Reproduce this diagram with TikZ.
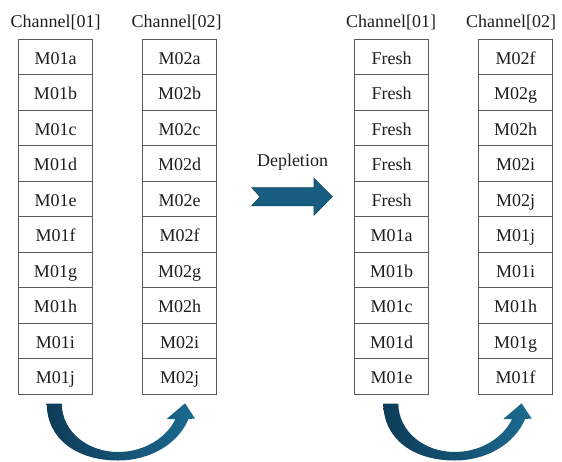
\documentclass[tikz,border=0pt]{standalone}
\usepackage{fontspec}
\setmainfont{Liberation Serif}
\definecolor{boxgray}{RGB}{90,90,90}
\definecolor{txt}{RGB}{30,30,30}
\definecolor{arrowblue}{RGB}{24,94,128}
\definecolor{arrowedge}{RGB}{16,70,98}
\definecolor{arrowdark}{RGB}{14,60,88}
\definecolor{arrowlight}{RGB}{28,106,144}
\begin{document}
\begin{tikzpicture}[x=1pt,y=-1pt,
  cell/.style={draw=boxgray, line width=0.9pt, minimum width=74.4pt, minimum height=35.5pt,
    inner sep=0pt, text height=14pt, text depth=0pt, font=\fontsize{18}{20}\selectfont, text=txt},
  chlabel/.style={anchor=base, inner sep=0pt, font=\fontsize{18}{20}\selectfont, text=txt},
  blockarrow/.style={fill=arrowblue, draw=arrowedge, line width=0.6pt, line join=miter},
  curvedarrow/.pic={
    \shade[left color=arrowdark, right color=arrowlight]
      (46.7,403.5) -- (61.7,403.5)
      .. controls (62,432) and (88,452) .. (118,452)
      .. controls (145,452) and (167,437) .. (175.5,419)
      -- (166.7,419) -- (185,403.3) -- (195,418.5) -- (188.5,419)
      .. controls (178,444) and (150,460.5) .. (118,460.5)
      .. controls (78,460.5) and (47,440) .. (46.7,403.5) -- cycle;
  }]
\useasboundingbox (0,0) rectangle (562,461);
% headers
\node[chlabel] (h1) at (55.5,27.5) {Channel[01]};
\node[chlabel] (h2) at (176.5,27.5) {Channel[02]};
\node[chlabel] (h3) at (391,27.5) {Channel[01]};
\node[chlabel] (h4) at (511,27.5) {Channel[02]};
% columns
\foreach \t [count=\i] in {M01a,M01b,M01c,M01d,M01e,M01f,M01g,M01h,M01i,M01j}
  \node[cell] (a\i) at (55.5,{57.05+35.5*(\i-1)}) {\t};
\foreach \t [count=\i] in {M02a,M02b,M02c,M02d,M02e,M02f,M02g,M02h,M02i,M02j}
  \node[cell] (b\i) at (179.7,{57.05+35.5*(\i-1)}) {\t};
\foreach \t [count=\i] in {Fresh,Fresh,Fresh,Fresh,Fresh,M01a,M01b,M01c,M01d,M01e}
  \node[cell] (c\i) at (391.7,{57.05+35.5*(\i-1)}) {\t};
\foreach \t [count=\i] in {M02f,M02g,M02h,M02i,M02j,M01j,M01i,M01h,M01g,M01f}
  \node[cell] (d\i) at (515.5,{57.05+35.5*(\i-1)}) {\t};
% depletion arrow
\node[chlabel] (dep) at (292.5,166) {Depletion};
\draw[blockarrow] (251.7,187.6) -- (314,187.6) -- (314,178.2) -- (332.3,196.7)
  -- (314,215.2) -- (314,205.8) -- (251.7,205.8) -- (260,196.7) -- cycle;
% curved arrows
\pic at (0,0) {curvedarrow};
\pic at (336.6,0) {curvedarrow};
\end{tikzpicture}
\end{document}
